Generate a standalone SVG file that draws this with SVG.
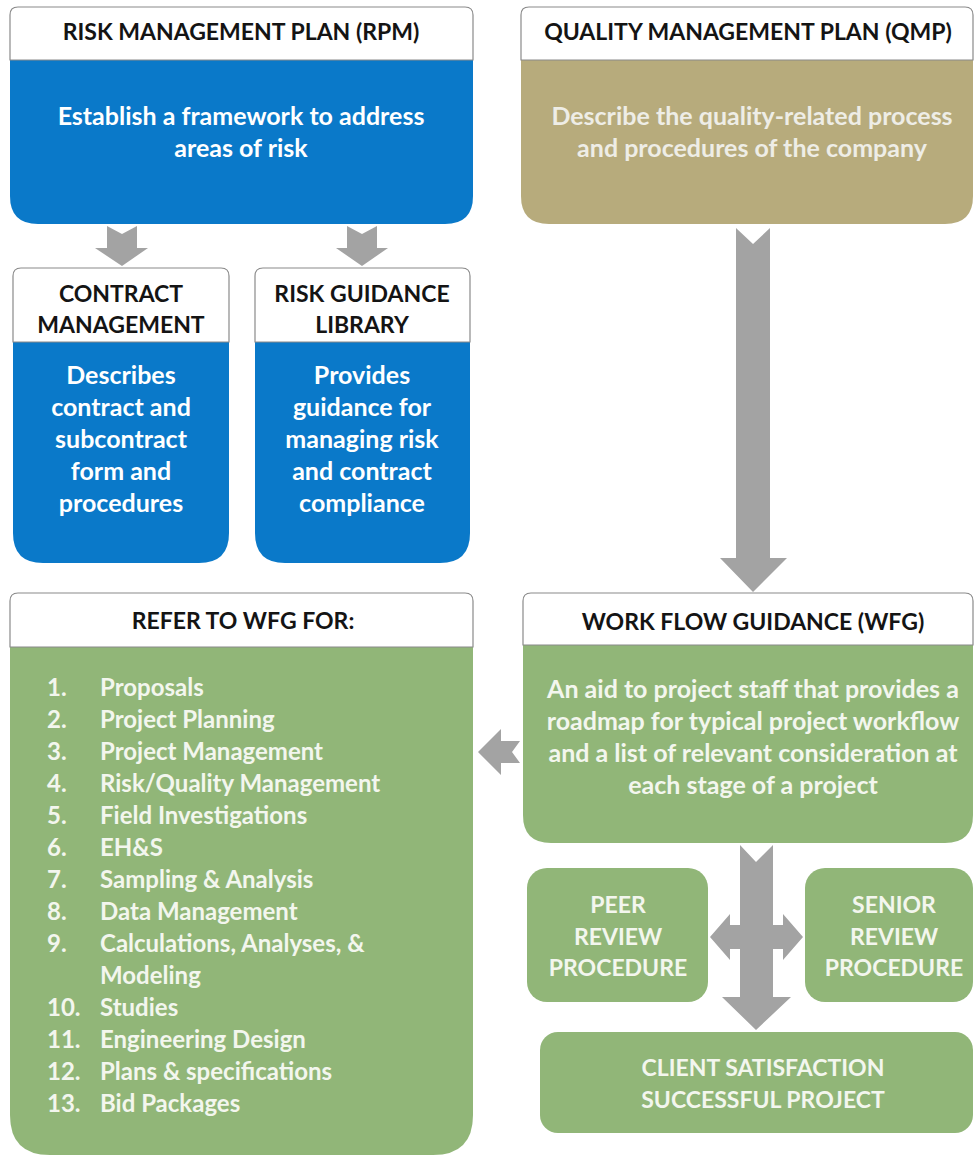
<svg xmlns="http://www.w3.org/2000/svg" width="975" height="1160" viewBox="0 0 975 1160">
  <style>
    .hdr { fill: #ffffff; stroke: #8a8a8a; stroke-width: 1.2; }
    .blue { fill: #0a79c9; }
    .tan { fill: #b7ab7c; }
    .green { fill: #91b678; }
    .arrow { fill: #a3a3a3; }
    text { font-family: Lato, "Open Sans", "Liberation Sans", sans-serif; font-weight: bold; }
    .ht { fill: #141414; font-size: 23px; text-anchor: middle; }
    .bt { fill: #ffffff; font-size: 25px; text-anchor: middle; }
    .qt { fill: #eeede6; font-size: 25px; text-anchor: middle; }
    .gt { fill: #f3f6ee; font-size: 25px; text-anchor: middle; }
    .gc { fill: #f3f6ee; font-size: 23px; text-anchor: middle; }
    .li { fill: #f3f6ee; font-size: 24px; }
  </style>

  <rect width="975" height="1160" fill="#ffffff"/>

  <!-- connectors -->
  <g id="connectors">
    <path class="arrow" d="M107,226 L122,234 L137,226 V248 H148 L122,266 L95,248 H107 Z"/>
    <path class="arrow" d="M347,226 L362,234 L377,226 V248 H388 L362,266 L336,248 H347 Z"/>
    <path class="arrow" d="M736,228 L753,244 L770,228 V558 H787 L753,592 L720,558 H736 Z"/>
    <path class="arrow" d="M520,741 L512,752 L520,763 H501 V775 L478,752 L501,729 V741 Z"/>
    <path class="arrow" d="M710,937 L730,914 V925 H783 V914 L803,937 L783,960 V949 H730 V960 Z"/>
    <path class="arrow" d="M740,845 L756,862 L773,845 V997 H791 L756,1030 L722,997 H740 Z"/>
  </g>

  <!-- Risk Management Plan -->
  <g id="rpm">
    <path class="blue" d="M10,60 H473 V196 Q473,224 445,224 H38 Q10,224 10,196 Z"/>
    <path class="hdr" d="M10,60 V15 Q10,7 18,7 H465 Q473,7 473,15 V60 Z"/>
    <text class="ht" x="241" y="40">RISK MANAGEMENT PLAN (RPM)</text>
    <text class="bt" x="241" y="125">Establish a framework to address</text>
    <text class="bt" x="241" y="157">areas of risk</text>
  </g>

  <!-- Quality Management Plan -->
  <g id="qmp">
    <path class="tan" d="M521,60 H973 V196 Q973,224 945,224 H549 Q521,224 521,196 Z"/>
    <path class="hdr" d="M521,60 V15 Q521,7 529,7 H965 Q973,7 973,15 V60 Z"/>
    <text class="ht" x="748" y="40">QUALITY MANAGEMENT PLAN (QMP)</text>
    <text class="qt" x="752" y="125">Describe the quality-related process</text>
    <text class="qt" x="752" y="157">and procedures of the company</text>
  </g>

  <!-- Contract Management -->
  <g id="contract">
    <path class="blue" d="M13,342 H229 V533 Q229,563 199,563 H43 Q13,563 13,533 Z"/>
    <path class="hdr" d="M13,342 V276 Q13,268 21,268 H221 Q229,268 229,276 V342 Z"/>
    <text class="ht" x="121" y="302">CONTRACT</text>
    <text class="ht" x="121" y="333">MANAGEMENT</text>
    <text class="bt" x="121" y="384">Describes</text>
    <text class="bt" x="121" y="416">contract and</text>
    <text class="bt" x="121" y="448">subcontract</text>
    <text class="bt" x="121" y="480">form and</text>
    <text class="bt" x="121" y="512">procedures</text>
  </g>

  <!-- Risk Guidance Library -->
  <g id="risk-guidance">
    <path class="blue" d="M255,342 H470 V533 Q470,563 440,563 H285 Q255,563 255,533 Z"/>
    <path class="hdr" d="M255,342 V276 Q255,268 263,268 H462 Q470,268 470,276 V342 Z"/>
    <text class="ht" x="362" y="302">RISK GUIDANCE</text>
    <text class="ht" x="362" y="333">LIBRARY</text>
    <text class="bt" x="362" y="384">Provides</text>
    <text class="bt" x="362" y="416">guidance for</text>
    <text class="bt" x="362" y="448">managing risk</text>
    <text class="bt" x="362" y="480">and contract</text>
    <text class="bt" x="362" y="512">compliance</text>
  </g>

  <!-- Refer to WFG list -->
  <g id="refer-wfg">
    <path class="green" d="M10,647 H473 V1115 Q473,1155 433,1155 H50 Q10,1155 10,1115 Z"/>
    <path class="hdr" d="M10,647 V601 Q10,593 18,593 H465 Q473,593 473,601 V647 Z"/>
    <text class="ht" x="243" y="629">REFER TO WFG FOR:</text>
    <g class="li">
      <text x="47" y="696">1.</text><text x="100" y="696">Proposals</text>
      <text x="47" y="728">2.</text><text x="100" y="728">Project Planning</text>
      <text x="47" y="760">3.</text><text x="100" y="760">Project Management</text>
      <text x="47" y="792">4.</text><text x="100" y="792">Risk/Quality Management</text>
      <text x="47" y="824">5.</text><text x="100" y="824">Field Investigations</text>
      <text x="47" y="856">6.</text><text x="100" y="856">EH&amp;S</text>
      <text x="47" y="888">7.</text><text x="100" y="888">Sampling &amp; Analysis</text>
      <text x="47" y="920">8.</text><text x="100" y="920">Data Management</text>
      <text x="47" y="952">9.</text><text x="100" y="952">Calculations, Analyses, &amp;</text>
      <text x="100" y="984">Modeling</text>
      <text x="47" y="1016">10.</text><text x="100" y="1016">Studies</text>
      <text x="47" y="1048">11.</text><text x="100" y="1048">Engineering Design</text>
      <text x="47" y="1080">12.</text><text x="100" y="1080">Plans &amp; specifications</text>
      <text x="47" y="1112">13.</text><text x="100" y="1112">Bid Packages</text>
    </g>
  </g>

  <!-- Work Flow Guidance -->
  <g id="wfg">
    <path class="green" d="M523,645 H973 V815 Q973,843 945,843 H551 Q523,843 523,815 Z"/>
    <path class="hdr" d="M523,645 V601 Q523,593 531,593 H965 Q973,593 973,601 V645 Z"/>
    <text class="ht" x="753" y="630">WORK FLOW GUIDANCE (WFG)</text>
    <text class="gt" x="753" y="698">An aid to project staff that provides a</text>
    <text class="gt" x="753" y="730">roadmap for typical project workflow</text>
    <text class="gt" x="753" y="762">and a list of relevant consideration at</text>
    <text class="gt" x="753" y="794">each stage of a project</text>
  </g>

  <!-- Peer Review -->
  <g id="peer-review">
    <rect class="green" x="527" y="868" width="181" height="134" rx="20"/>
    <text class="gc" x="618" y="913">PEER</text>
    <text class="gc" x="618" y="945">REVIEW</text>
    <text class="gc" x="618" y="976">PROCEDURE</text>
  </g>

  <!-- Senior Review -->
  <g id="senior-review">
    <rect class="green" x="805" y="868" width="168" height="134" rx="20"/>
    <text class="gc" x="894" y="913">SENIOR</text>
    <text class="gc" x="894" y="945">REVIEW</text>
    <text class="gc" x="894" y="976">PROCEDURE</text>
  </g>

  <!-- Client Satisfaction -->
  <g id="client-satisfaction">
    <rect class="green" x="540" y="1032" width="433" height="101" rx="18"/>
    <text class="gc" x="763" y="1076">CLIENT SATISFACTION</text>
    <text class="gc" x="763" y="1108">SUCCESSFUL PROJECT</text>
  </g>
</svg>
